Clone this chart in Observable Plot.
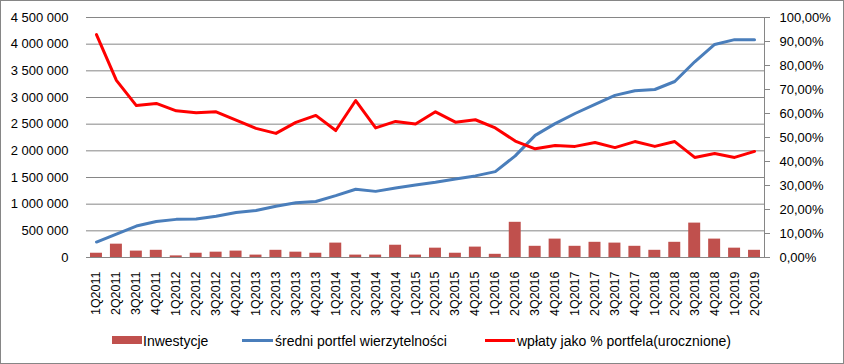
<!DOCTYPE html>
<html>
<head>
<meta charset="utf-8">
<script src="https://cdn.jsdelivr.net/npm/d3@7"></script>
<script src="https://cdn.jsdelivr.net/npm/@observablehq/plot@0.6"></script>
<style>
  html, body { margin: 0; padding: 0; background: #fff; }
  #wrap { position: relative; width: 844px; height: 364px; overflow: hidden; background: #fff; }
  #chart { position: absolute; left: 0; top: 0; }
  #border { position: absolute; left: 0; top: 0; width: 842px; height: 362px; border: 1px solid #868686; pointer-events: none; }
  .leg { position: absolute; font-family: "Liberation Sans", Arial, sans-serif; font-size: 14px; color: #000; line-height: 16px; white-space: nowrap; }
  .sw { position: absolute; }
</style>
</head>
<body>
<div id="wrap">
  <div id="chart"></div>
  <div id="legend"></div>
  <div id="border"></div>
</div>
<script>
const quarters = ["1Q2011","2Q2011","3Q2011","4Q2011","1Q2012","2Q2012","3Q2012","4Q2012","1Q2013","2Q2013","3Q2013","4Q2013","1Q2014","2Q2014","3Q2014","4Q2014","1Q2015","2Q2015","3Q2015","4Q2015","1Q2016","2Q2016","3Q2016","4Q2016","1Q2017","2Q2017","3Q2017","4Q2017","1Q2018","2Q2018","3Q2018","4Q2018","1Q2019","2Q2019"];

const inwestycje = [80000, 250000, 120000, 135000, 30000, 80000, 100000, 120000, 45000, 135000, 100000, 80000, 270000, 45000, 45000, 230000, 45000, 175000, 80000, 195000, 60000, 660000, 210000, 345000, 210000, 285000, 270000, 210000, 135000, 285000, 645000, 345000, 175000, 135000];

const sredniPortfel = [290000, 440000, 590000, 675000, 715000, 720000, 775000, 845000, 880000, 960000, 1025000, 1050000, 1160000, 1280000, 1240000, 1305000, 1360000, 1410000, 1470000, 1530000, 1610000, 1905000, 2290000, 2510000, 2700000, 2870000, 3040000, 3125000, 3150000, 3300000, 3670000, 3995000, 4085000, 4085000];

const wplatyPct = [92.9, 73.8, 63.3, 64.2, 61.1, 60.3, 60.7, 57.2, 53.8, 51.7, 56.3, 59.2, 52.9, 65.4, 54.0, 56.7, 55.6, 60.7, 56.4, 57.4, 54.0, 48.5, 45.3, 46.7, 46.3, 47.9, 45.8, 48.3, 46.3, 48.3, 41.7, 43.3, 41.7, 44.2];

const leftTicks = [0, 500000, 1000000, 1500000, 2000000, 2500000, 3000000, 3500000, 4000000, 4500000];
const rightTicksPct = [0, 10, 20, 30, 40, 50, 60, 70, 80, 90, 100];
const seriesNames = ["Inwestycje", "średni portfel wierzytelności", "wpłaty jako % portfela(urocznione)"];
const colors = ["#C0504D", "#4A7EBB", "#FF0000"];

const leftMax = 4500000;
const pctToLeft = p => p / 100 * leftMax;

const data = quarters.map((q, i) => ({q, inv: inwestycje[i], portfel: sredniPortfel[i], pct: wplatyPct[i]}));

const fmtLeft = d => d3.format(",")(d).replace(/,/g, " ");
const fmtRight = d => (d / leftMax * 100).toFixed(2).replace(".", ",") + "%";

const chart = Plot.plot({
  width: 844,
  height: 325,
  marginLeft: 86,
  marginRight: 80,
  marginTop: 17,
  marginBottom: 68,
  style: {fontFamily: "'Liberation Sans', Arial, sans-serif", fontSize: "13px", color: "#000", background: "transparent", overflow: "visible"},
  x: {type: "band", domain: quarters, paddingInner: 0.4, paddingOuter: 0.2, label: null},
  y: {domain: [0, leftMax], label: null},
  marks: [
    Plot.ruleY(leftTicks, {stroke: "#868686", strokeWidth: 1}),
    Plot.barY(data, {x: "q", y: "inv", fill: colors[0]}),
    Plot.lineY(data, {x: "q", y: "portfel", stroke: colors[1], strokeWidth: 3}),
    Plot.lineY(data, {x: "q", y: d => pctToLeft(d.pct), stroke: colors[2], strokeWidth: 3}),
    Plot.axisY({ticks: leftTicks, anchor: "left", tickSize: 0, tickPadding: 18, tickFormat: fmtLeft, label: null, fontSize: 13}),
    Plot.axisY({ticks: rightTicksPct.map(pctToLeft), anchor: "right", tickSize: 5, tickPadding: 10, tickFormat: fmtRight, label: null, stroke: "#868686", fontSize: 13}),
    Plot.axisX({tickRotate: -90, tickSize: 0, tickPadding: 14, label: null, fontSize: 12.5}),
    Plot.frame({anchor: "right", stroke: "#868686"})
  ]
});
document.getElementById("chart").appendChild(chart);

// legend (HTML, below the SVG area)
const leg = document.getElementById("legend");
const items = [
  {x: 112, w: 30, h: 8, top: 336, tx: 143},
  {x: 242, w: 31, h: 3, top: 339, tx: 275},
  {x: 485, w: 30, h: 3, top: 339, tx: 517}
];
items.forEach((it, i) => {
  const sw = document.createElement("div");
  sw.className = "sw";
  sw.style.left = it.x + "px"; sw.style.top = it.top + "px";
  sw.style.width = it.w + "px"; sw.style.height = it.h + "px";
  sw.style.background = colors[i];
  leg.appendChild(sw);
  const t = document.createElement("div");
  t.className = "leg";
  t.style.left = it.tx + "px"; t.style.top = "333px";
  t.textContent = seriesNames[i];
  leg.appendChild(t);
});
</script>
</body>
</html>
